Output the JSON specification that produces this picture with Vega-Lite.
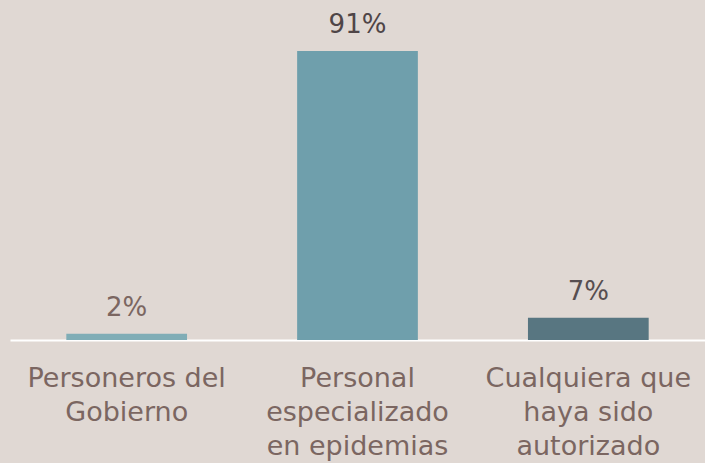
{
  "$schema": "https://vega.github.io/schema/vega-lite/v6.json",
  "width": 695,
  "height": 289,
  "autosize": {"type": "none"},
  "padding": {"left": 10, "top": 51, "right": 0, "bottom": 123},
  "background": "#e0d8d3",
  "config": {"view": {"stroke": null}, "font": "DejaVu Sans"},
  "data": {
    "values": [
      {"cat": "Personeros del|Gobierno", "pct": 2, "label": "2%"},
      {"cat": "Personal|especializado|en epidemias", "pct": 91, "label": "91%"},
      {"cat": "Cualquiera que|haya sido|autorizado", "pct": 7, "label": "7%"}
    ]
  },
  "encoding": {
    "x": {
      "field": "cat",
      "type": "nominal",
      "sort": null,
      "scale": {"paddingInner": 0.477, "paddingOuter": 0.244},
      "axis": {
        "title": null,
        "labelAngle": 0,
        "labelExpr": "split(datum.label, '|')",
        "labelFontSize": 27,
        "labelColor": "#7b6661",
        "labelLineHeight": 34,
        "labelPadding": 25,
        "labelLimit": 0,
        "ticks": false,
        "domainColor": "#ffffff",
        "domainWidth": 2
      }
    },
    "y": {
      "field": "pct",
      "type": "quantitative",
      "scale": {"domain": [0, 91], "nice": false},
      "axis": null
    }
  },
  "layer": [
    {
      "mark": {"type": "bar"},
      "encoding": {
        "color": {
          "field": "cat",
          "type": "nominal",
          "sort": null,
          "scale": {"range": ["#80adb6", "#6f9fac", "#587681"]},
          "legend": null
        }
      }
    },
    {
      "mark": {"type": "text", "dy": -18, "fontSize": 26, "baseline": "alphabetic"},
      "encoding": {
        "text": {"field": "label"},
        "color": {
          "field": "cat",
          "type": "nominal",
          "sort": null,
          "scale": {"range": ["#7b6661", "#4f4547", "#574e50"]},
          "legend": null
        }
      }
    }
  ],
  "resolve": {"scale": {"color": "independent"}}
}
